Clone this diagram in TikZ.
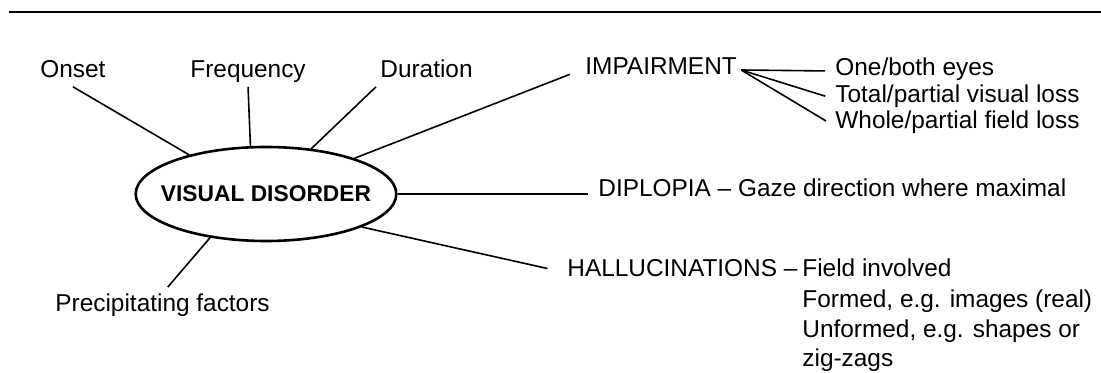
\documentclass[tikz,border=0pt]{standalone}
\usepackage{fontspec}
\setmainfont{Liberation Sans}
\usepackage{tikz}
\usetikzlibrary{shapes.geometric}

\tikzset{
  lbl/.style={inner sep=2pt, text height=.72em, text depth=.22em, anchor=base west},
  link/.style={line width=0.8pt},
}

\begin{document}
\begin{tikzpicture}[x=0.5pt, y=-0.5pt, font=\fontsize{12.2}{14}\selectfont]
        \useasboundingbox (0,0) rectangle (1101,373);                %
        \draw [line width=1pt]      (9,12) -- (1101,12);             %rule

        \node [ellipse, draw, line width=1.3pt, minimum height=47pt, inner xsep=-6.5pt, inner ysep=0pt,
               font=\fontsize{11.4}{13}\selectfont\bfseries] (vd) at (266,194) {VISUAL DISORDER};

        \node [lbl] (onset) at (36,78)    {Onset};                   %
        \node [lbl] (freq)  at (186,78)   {Frequency};               %
        \node [lbl] (dur)   at (376,78)   {Duration};                %
        \node [lbl] (imp)   at (581,75)   {IMPAIRMENT};              %
        \node [lbl] (one)   at (831,76)   {One/both eyes};           %
        \node [lbl] (total) at (831,103)  {Total/partial visual loss};
        \node [lbl] (whole) at (831,129)  {Whole/partial field loss};
        \node [lbl] (dip)   at (594,197)  {DIPLOPIA -- Gaze direction where maximal};
        \node [lbl] (hal)   at (563,277)  {HALLUCINATIONS --};       %
        \node [lbl] (field) at (798,277)  {Field involved};          %
        \node [lbl] (form)  at (798,307)  {Formed, e.g. images (real)};
        \node [lbl] (unf)   at (798,337)  {Unformed, e.g. shapes or};
        \node [lbl] (zig)   at (798,366)  {zig-zags};                %
        \node [lbl] (prec)  at (51,312)   {Precipitating factors};   %

        \draw [link]                (onset.south) -- (vd.153);       %
        \draw [link]                (freq.south) -- (vd.108);        %
        \draw [link]                (dur.south west) -- (vd.45);     %
        \draw [link, shorten >=6pt] (vd.22) -- (imp.west);           %
        \draw [link, shorten >=3pt] (imp.east) -- (one.west);        %
        \draw [link, shorten >=3pt] (imp.east) -- (total.west);      %
        \draw [link, shorten >=3pt] (imp.east) -- (whole.west);      %
        \draw [link, shorten >=3pt] (vd.east) -- (vd.east -| dip.west);
        \draw [link, shorten >=8pt] (vd.-19) -- (hal.west);          %
        \draw [link, shorten <=4pt] (prec.north) -- (vd.-142);       %
\end{tikzpicture}
\end{document}
